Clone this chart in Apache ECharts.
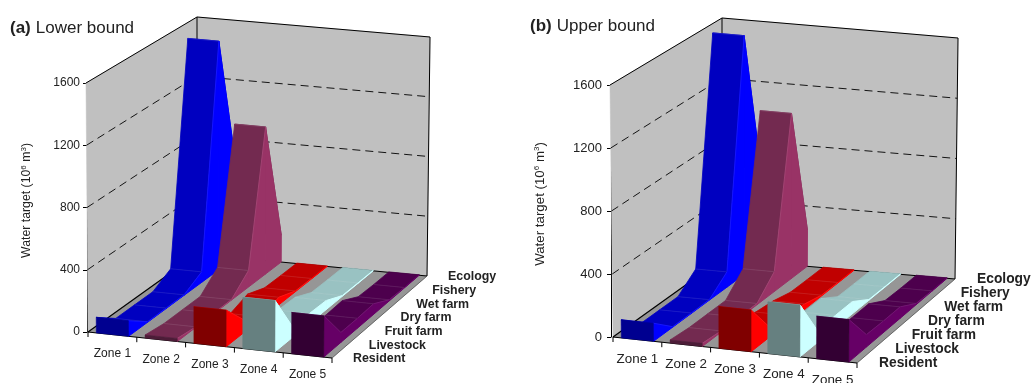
<!DOCTYPE html>
<html><head><meta charset="utf-8">
<style>html,body{margin:0;padding:0;background:#fff}#c{width:1032px;height:383px}</style>
<script src="https://cdn.jsdelivr.net/npm/echarts@6/dist/echarts.min.js"></script>
</head><body><div id="c"></div>
<script>
var zones = ['Zone 1','Zone 2','Zone 3','Zone 4','Zone 5'];
var uses = ['Resident','Livestock','Fruit farm','Dry farm','Wet farm','Fishery','Ecology'];
var yTicks = [0,400,800,1200,1600];
// values by use (front to back), one array per zone
var lowerZone1 = [100,3,3,3,70,1530,650];
var lowerZone2 = [20,3,3,3,110,985,180];
var lowerZone3 = [235,80,10,50,5,3,3];
var lowerZone4 = [330,70,65,60,5,3,3];
var lowerZone5 = [265,65,65,70,8,3,3];
var upperZone1 = [115,3,3,3,100,1575,620];
var upperZone2 = [20,8,8,8,130,1090,240];
var upperZone3 = [265,65,50,35,5,3,3];
var upperZone4 = [330,70,80,80,5,3,3];
var upperZone5 = [270,80,75,75,8,3,3];
var palette = [
 {top:'#0000C0',side:'#0000FF',cap:'#000090'},
 {top:'#732A50',side:'#993366',cap:'#4D1C38'},
 {top:'#C00000',side:'#FF0000',cap:'#800000'},
 {top:'#99C2C2',side:'#CCFFFF',cap:'#668080'},
 {top:'#4D004D',side:'#660066',cap:'#330033'}
];
var FF='"Liberation Sans",Arial,sans-serif', TXT='#222';
var panels = [
 {key:'a',name:'Lower bound',zoneData:[lowerZone1,lowerZone2,lowerZone3,lowerZone4,lowerZone5],
  grid:{left:87,top:83,width:245,height:249},
  c:{f0:[88,332],f1:[332,358],b0:[197,254],b1:[427,276],tf0:[86,83],tf1:[334,109],tb0:[197,17],tb1:[430,37]},
  titleX:5,titleY:14,axisFs:12,axisMargin:7,zoneFs:12,useFs:12.4,nameGap:53,namePad:14,useOff:[21,1],zoneOff:19.5},
 {key:'b',name:'Upper bound',zoneData:[upperZone1,upperZone2,upperZone3,upperZone4,upperZone5],
  grid:{left:611,top:85,width:246,height:252},
  c:{f0:[613,337],f1:[857,363],b0:[722,259],b1:[955,279],tf0:[610,85],tf1:[859,111],tb0:[722,18],tb1:[958,38]},
  titleX:525,titleY:12,axisFs:13,axisMargin:9,zoneFs:13.4,useFs:13.8,nameGap:64,namePad:14,useOff:[22,0],zoneOff:19.5}
];
function mk(c){
 return function(u,v,w){
  var r=[];
  for(var k=0;k<2;k++){
   var bot=(1-u)*(1-w)*c.f0[k]+u*(1-w)*c.f1[k]+(1-u)*w*c.b0[k]+u*w*c.b1[k];
   var top=(1-u)*(1-w)*c.tf0[k]+u*(1-w)*c.tf1[k]+(1-u)*w*c.tb0[k]+u*w*c.tb1[k];
   r[k]=bot*(1-v)+top*v;
  }
  return r;
 };
}
// foreshortening of the depth axis for the marks
function depth(w){var s=0.09;return w*(1+s)/(1+s*w);}
function poly(pts,fill,lw){return {type:'polygon',shape:{points:pts},style:{fill:fill,stroke:fill,lineWidth:lw||0.5}};}
function line(a,b,stroke,lw,dash){return {type:'line',shape:{x1:a[0],y1:a[1],x2:b[0],y2:b[1]},style:{stroke:stroke,lineWidth:lw||1,lineDash:dash||null,fill:null}};}

var option={animation:false,backgroundColor:'#fff',title:[],grid:[],xAxis:[],yAxis:[],series:[]};
panels.forEach(function(p,pi){
 var P=mk(p.c);
 option.title.push({left:p.titleX,top:p.titleY,text:'{b|('+p.key+')} {n|'+p.name+'}',
  textStyle:{rich:{b:{fontFamily:FF,fontWeight:'bold',fontSize:17,color:TXT},n:{fontFamily:FF,fontWeight:'normal',fontSize:17,color:TXT}}}});
 option.grid.push(Object.assign({},p.grid));
 option.xAxis.push({gridIndex:pi,type:'category',data:zones,show:false});
 option.yAxis.push({gridIndex:pi,type:'value',min:0,max:1600,interval:400,
  axisLine:{show:true,lineStyle:{color:'#000',width:1}},axisTick:{show:true,length:4,lineStyle:{color:'#000'}},
  axisLabel:{margin:p.axisMargin,fontFamily:FF,fontSize:p.axisFs,color:TXT,formatter:function(v){return String(v);}},splitLine:{show:false},
  name:'{n|Water target (10}{s|6}{n| m}{s|3}{n|)}',nameLocation:'middle',nameRotate:90,nameGap:p.nameGap,
  nameTextStyle:{padding:[0,0,0,p.namePad],rich:{n:{fontFamily:FF,fontSize:p.axisFs+0.3,color:TXT,lineHeight:14},s:{fontFamily:FF,fontSize:8,color:TXT,verticalAlign:'top',lineHeight:14}}}});
 // room: walls, floor, dashed grid, axis ticks
 option.series.push({type:'custom',xAxisIndex:pi,yAxisIndex:pi,silent:true,
  data:yTicks.map(function(t){return [0,t];}),encode:{x:0,y:1},
  renderItem:function(params,api){
   var cs=params.coordSys, ch=[];
   var v=(cs.y+cs.height-api.coord([0,api.value(1)])[1])/cs.height;
   if(params.dataIndex===0){
    ch.push(poly([P(0,0,0),P(0,0,1),P(0,1,1),P(0,1,0)],'#C0C0C0'));
    ch.push(poly([P(0,0,1),P(1,0,1),P(1,1,1),P(0,1,1)],'#C0C0C0'));
    ch.push(poly([P(0,0,0),P(1,0,0),P(1,0,1),P(0,0,1)],'#969696'));
    ch.push(line(P(0,0,0),P(0,0,1),'#000',1.2));
    ch.push(line(P(0,0,1),P(1,0,1),'#000',1.2));
    ch.push(line(P(0,0,0),P(1,0,0),'#000',1));
    ch.push(line(P(1,0,0),P(1,0,1),'#555',0.8));
    ch.push(line(P(0,1,0),P(0,1,1),'#000',1));
    ch.push(line(P(0,1,1),P(1,1,1),'#000',1));
    ch.push(line(P(0,0,1),P(0,1,1),'#000',1));
    ch.push(line(P(1,0,1),P(1,1,1),'#000',1));
    for(var i=0;i<=zones.length;i++){var q=P(i/zones.length,0,0);ch.push(line(q,[q[0],q[1]+5],'#000',1));}
   } else if(v<0.999){
    ch.push(line(P(0,v,0),P(0,v,1),'#000',0.9,[8,5]));
    ch.push(line(P(0,v,1),P(1,v,1),'#000',0.9,[8,5]));
   }
   return {type:'group',children:ch};
  }});
 // ribbons: painted left to right, each from the back to the front
 p.zoneData.forEach(function(vals,zi){
  var rows=[];
  for(var k=vals.length-2;k>=0;k--) rows.push([zi,vals[k],k,vals[k+1]]);
  option.series.push({type:'custom',name:zones[zi],xAxisIndex:pi,yAxisIndex:pi,silent:true,data:rows,encode:{x:0,y:1},
   renderItem:function(params,api){
    var cs=params.coordSys,k=api.value(2),n=uses.length-1;
    var a=api.coord([zi,api.value(1)]), b=api.coord([zi,api.value(3)]);
    var band=api.size([1,0])[0]/cs.width;
    var uc=(a[0]-cs.x)/cs.width, uL=uc-band*0.33, uR=uc+band*0.33;
    var v0=(cs.y+cs.height-a[1])/cs.height, v1=(cs.y+cs.height-b[1])/cs.height;
    var w0=depth(k/n),w1=depth((k+1)/n),col=palette[zi],ch=[];
    ch.push(poly([P(uL,v0,w0),P(uR,v0,w0),P(uR,v1,w1),P(uL,v1,w1)],col.top,0.8));
    if(k<n-1) ch.push(line(P(uL,v1,w1),P(uR,v1,w1),'rgba(255,255,255,0.14)',0.7));
    ch.push(poly([P(uR,0,w0),P(uR,v0,w0),P(uR,v1,w1),P(uR,0,w1)],col.side,1));
    if(k<n-1) ch.push(line(P(uR,v0,w0),P(uR,v1,w1),'rgba(255,255,255,0.14)',0.6));
    if(k===0) ch.push(poly([P(uL,0,0),P(uR,0,0),P(uR,v0,0),P(uL,v0,0)],col.cap));
    return {type:'group',children:ch};
   }});
 });
 // zone labels
 option.series.push({type:'custom',xAxisIndex:pi,yAxisIndex:pi,silent:true,
  data:zones.map(function(z,i){return [i,0];}),encode:{x:0,y:1},
  renderItem:function(params,api){
   var cs=params.coordSys,u=(api.coord([api.value(0),0])[0]-cs.x)/cs.width,q=P(u,0,0);
   return {type:'text',style:{text:zones[params.dataIndex],x:q[0],y:q[1]+p.zoneOff,textAlign:'center',textVerticalAlign:'middle',fontFamily:FF,fontSize:p.zoneFs,fill:TXT}};
  }});
 // use labels on the depth axis
 option.series.push({type:'custom',xAxisIndex:pi,yAxisIndex:pi,silent:true,
  data:uses.map(function(z,i){return [4,0,i];}),encode:{x:0,y:1},
  renderItem:function(params,api){
   var q=P(1,0,api.value(2)/(uses.length-1));
   return {type:'text',style:{text:uses[params.dataIndex],x:q[0]+p.useOff[0],y:q[1]+p.useOff[1],textAlign:'left',textVerticalAlign:'middle',fontFamily:FF,fontWeight:'bold',fontSize:p.useFs,fill:TXT}};
  }});
});
echarts.init(document.getElementById('c')).setOption(option);
</script></body></html>
